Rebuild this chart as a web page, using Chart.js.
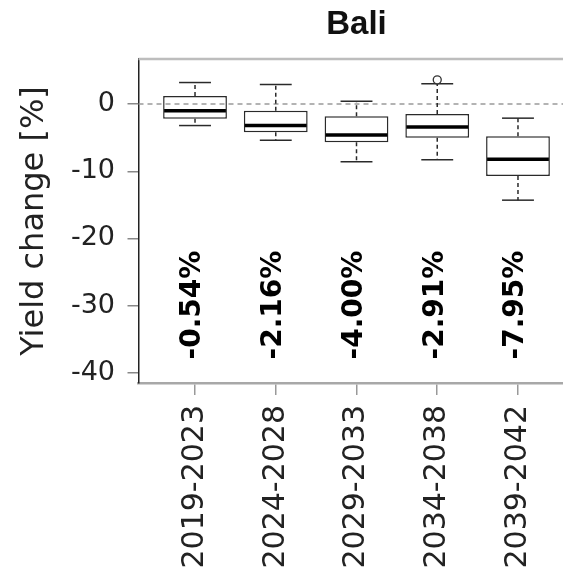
<!DOCTYPE html>
<html><head><meta charset="utf-8">
<script src="https://cdn.jsdelivr.net/npm/chart.js@4.4.1/dist/chart.umd.min.js"></script>
<style>
html,body{margin:0;padding:0;background:#fff;overflow:hidden;width:563px;height:579px}
#wrap{width:563px;height:579px;overflow:hidden;position:relative}
canvas{display:block}
</style></head>
<body><div id="wrap"><canvas id="c" width="580" height="579" style="width:580px;height:579px"></canvas></div>
<script>
const categories = ['2019-2023','2024-2028','2029-2033','2034-2038','2039-2042'];
const whiskerLow  = [-3.2, -5.4, -8.6, -8.3, -14.3];
const q1          = [-2.2, -4.2, -5.7, -5.0, -10.7];
const median      = [-1.0, -3.2, -4.6, -3.4, -8.2];
const q3          = [ 1.2, -1.0, -1.8, -1.5, -4.8];
const whiskerHigh = [ 3.2,  2.9,  0.4,  3.0, -2.1];
const outliers    = [[], [], [], [3.6], []];
const meanLabels  = ['-0.54%','-2.16%','-4.00%','-2.91%','-7.95%'];
const yTicks      = [0, -10, -20, -30, -40];

function seg(ctx, x1, y1, x2, y2){ ctx.beginPath(); ctx.moveTo(x1,y1); ctx.lineTo(x2,y2); ctx.stroke(); }

const boxPlugin = {
  id: 'boxExtras',
  afterDatasetsDraw(chart){
    const {ctx, chartArea:a, scales:{x, y}} = chart;
    const meta = chart.getDatasetMeta(0);
    ctx.save();
    ctx.strokeStyle = '#9a9a9a'; ctx.lineWidth = 1.5; ctx.setLineDash([5,4]);
    const y0 = y.getPixelForValue(0);
    seg(ctx, a.left, y0, a.right, y0);
    categories.forEach((c, i) => {
      const cx = x.getPixelForValue(i + 1);
      const half = meta.data[i].width / 2;
      ctx.strokeStyle = '#2a2a2a'; ctx.lineWidth = 1.5;
      ctx.setLineDash([4,3]);
      seg(ctx, cx, y.getPixelForValue(q3[i]), cx, y.getPixelForValue(whiskerHigh[i]));
      seg(ctx, cx, y.getPixelForValue(q1[i]), cx, y.getPixelForValue(whiskerLow[i]));
      ctx.setLineDash([]);
      const yh = y.getPixelForValue(whiskerHigh[i]);
      const yl = y.getPixelForValue(whiskerLow[i]);
      seg(ctx, cx - half/2, yh, cx + half/2, yh);
      seg(ctx, cx - half/2, yl, cx + half/2, yl);
      ctx.strokeStyle = '#000'; ctx.lineWidth = 3.5;
      const ym = y.getPixelForValue(median[i]);
      seg(ctx, cx - half + 1, ym, cx + half - 1, ym);
      ctx.lineWidth = 1.3; ctx.strokeStyle = '#333';
      outliers[i].forEach(v => {
        ctx.beginPath(); ctx.arc(cx, y.getPixelForValue(v), 4, 0, Math.PI*2);
        ctx.fillStyle = '#fff'; ctx.fill(); ctx.stroke();
      });
    });
    ctx.restore();
  },
  afterDraw(chart){
    const {ctx, chartArea:a, scales:{x, y}} = chart;
    ctx.save();
    ctx.strokeStyle = '#bdbdbd'; ctx.lineWidth = 2.5;
    seg(ctx, a.left, a.top, a.right, a.top);
    ctx.fillStyle = '#000';
    ctx.font = 'bold 28px "DejaVu Sans"';
    ctx.textAlign = 'left'; ctx.textBaseline = 'middle';
    const yb = y.getPixelForValue(-38);
    meanLabels.forEach((t, i) => {
      const cx = x.getPixelForValue(i + 1) - 2;
      ctx.save(); ctx.translate(cx, yb); ctx.rotate(-Math.PI/2);
      ctx.fillText(t, 0, 0); ctx.restore();
    });
    ctx.restore();
  }
};

new Chart(document.getElementById('c'), {
  type: 'bar',
  data: {
    datasets: [{
      data: categories.map((c, i) => ({x: i + 1, y: [q1[i], q3[i]]})),
      backgroundColor: '#ffffff',
      borderColor: '#2a2a2a',
      borderWidth: 1.5,
      borderSkipped: false,
      barPercentage: 0.79,
      categoryPercentage: 1.0
    }]
  },
  options: {
    responsive: false,
    animation: false,
    layout: {padding: {top: 0, left: 0, right: 5.5, bottom: 0}},
    plugins: {
      legend: {display: false},
      tooltip: {enabled: false},
      title: {
        display: true, text: 'Bali', fullSize: false, color: '#111',
        font: {family: 'Liberation Sans', size: 33, weight: 'bold', lineHeight: 1.2},
        padding: {top: 5, bottom: 14.4}
      }
    },
    scales: {
      x: {
        type: 'linear', min: 0.3, max: 5.7, offset: false,
        afterBuildTicks: s => { s.ticks = categories.map((c, i) => ({value: i + 1})); },
        afterFit: s => { s.height = 196; },
        grid: {offset: false, drawOnChartArea: false, drawTicks: true, tickLength: 12, color: '#999', lineWidth: 1.5},
        border: {color: '#a8a8a8', width: 2.5},
        ticks: {
          minRotation: 90, maxRotation: 90, autoSkip: false, padding: 10,
          color: '#222', font: {family: 'DejaVu Sans', size: 30},
          callback: v => categories[Math.round(v) - 1]
        }
      },
      y: {
        min: -41.5, max: 6.7,
        afterBuildTicks: s => { s.ticks = yTicks.map(v => ({value: v})); },
        afterFit: s => { s.width = 138.5; },
        grid: {drawOnChartArea: false, drawTicks: true, tickLength: 11, color: '#888', lineWidth: 1.5},
        border: {color: '#222', width: 1.5},
        ticks: {padding: 12.5, color: '#222', font: {family: 'DejaVu Sans', size: 27}},
        title: {
          display: true, text: 'Yield change [%]', color: '#222',
          font: {family: 'DejaVu Sans', size: 32, lineHeight: 1.2},
          padding: {top: 15.8, bottom: 0}
        }
      }
    }
  },
  plugins: [boxPlugin]
});
</script>
</body></html>
